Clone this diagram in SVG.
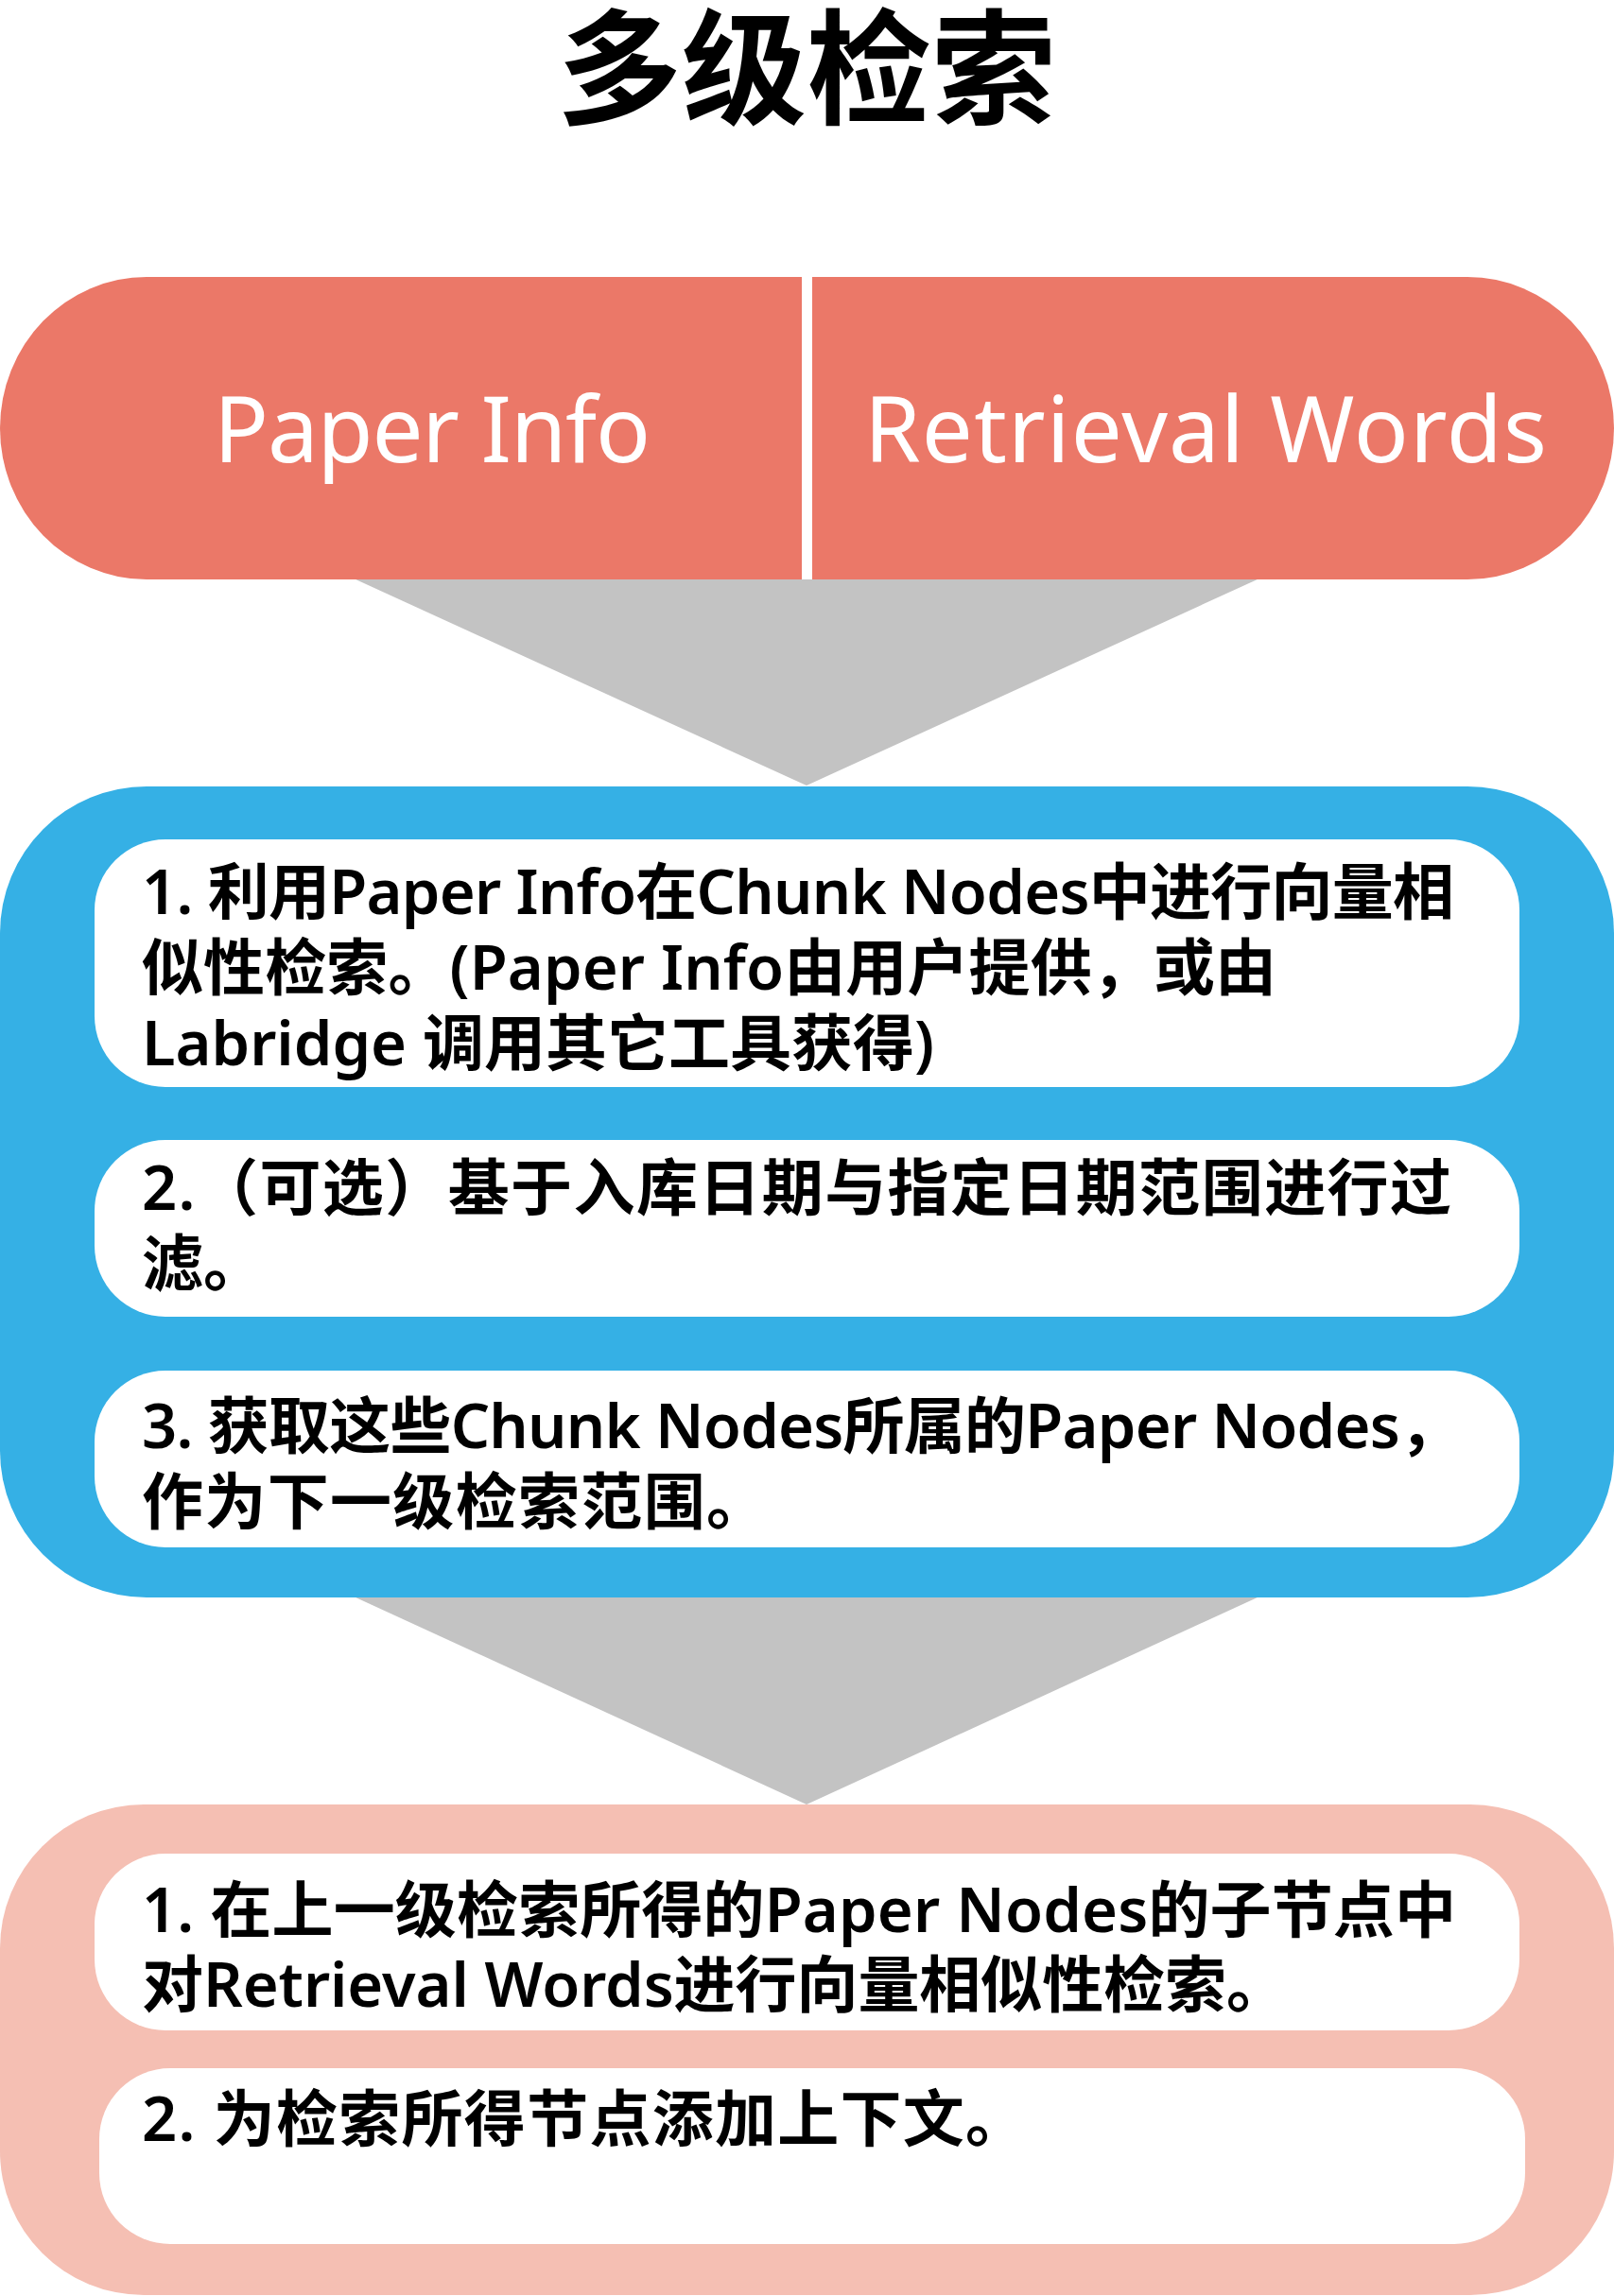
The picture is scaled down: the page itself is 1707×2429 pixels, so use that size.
<svg xmlns="http://www.w3.org/2000/svg" width="1707" height="2429" viewBox="0 0 1707 2429">
<style>
.title{font-family:"Noto Sans CJK SC","Noto Sans",sans-serif;font-weight:700;font-size:132px;fill:#000;text-anchor:middle}
.head{font-family:"Noto Sans","Noto Sans CJK SC",sans-serif;font-size:96px;fill:#fff;text-anchor:middle}
.body{font-family:"Noto Sans","Noto Sans CJK SC",sans-serif;font-weight:600;font-size:65px;fill:#000}
.card{fill:#fff}
.arrow{fill:#C3C3C3}
</style>
<rect width="1707" height="2429" fill="#fff"/>
<g id="title"><text class="title" x="853" y="121">多级检索</text></g>
<g id="connectors">
<polygon class="arrow" points="374,612 1332,612 853,831"/>
<polygon class="arrow" points="374,1689 1332,1689 853,1909"/>
</g>
<g id="inputs">
<rect x="0" y="293" width="1707" height="320" rx="155" ry="160" fill="#EB7868"/>
<rect x="848" y="293" width="11" height="320" fill="#fff"/>
<text class="head" x="457" y="489" textLength="462">Paper Info</text>
<text class="head" x="1275" y="489" textLength="722">Retrieval Words</text>
</g>
<g id="stage1">
<rect x="0" y="832" width="1707" height="858" rx="155" ry="155" fill="#35B0E5"/>
<g id="step1-1">
<rect class="card" x="100" y="888" width="1507" height="262" rx="75"/>
<text class="body" x="150" y="967" textLength="1388">1. 利用Paper Info在Chunk Nodes中进行向量相</text>
<text class="body" x="150" y="1047" textLength="1200">似性检索。(Paper Info由用户提供，或由</text>
<text class="body" x="150" y="1127" textLength="838">Labridge 调用其它工具获得)</text>
</g>
<g id="step1-2">
<rect class="card" x="100" y="1206" width="1507" height="187" rx="75"/>
<text class="body" x="150" y="1280" textLength="1385">2.（可选）基于入库日期与指定日期范围进行过</text>
<text class="body" x="150" y="1360">滤。</text>
</g>
<g id="step1-3">
<rect class="card" x="100" y="1450" width="1507" height="187" rx="75"/>
<text class="body" x="150" y="1532" textLength="1395">3. 获取这些Chunk Nodes所属的Paper Nodes，</text>
<text class="body" x="150" y="1612" textLength="662">作为下一级检索范围。</text>
</g>
</g>
<g id="stage2">
<rect x="0" y="1909" width="1707" height="519" rx="152" ry="152" fill="#F5BFB3"/>
<g id="step2-1">
<rect class="card" x="100" y="1961" width="1507" height="187" rx="75"/>
<text class="body" x="150" y="2044" textLength="1390">1. 在上一级检索所得的Paper Nodes的子节点中</text>
<text class="body" x="150" y="2123" textLength="1212">对Retrieval Words进行向量相似性检索。</text>
</g>
<g id="step2-2">
<rect class="card" x="105" y="2188" width="1508" height="186" rx="75"/>
<text class="body" x="150" y="2265" textLength="936">2. 为检索所得节点添加上下文。</text>
</g>
</g>
</svg>
